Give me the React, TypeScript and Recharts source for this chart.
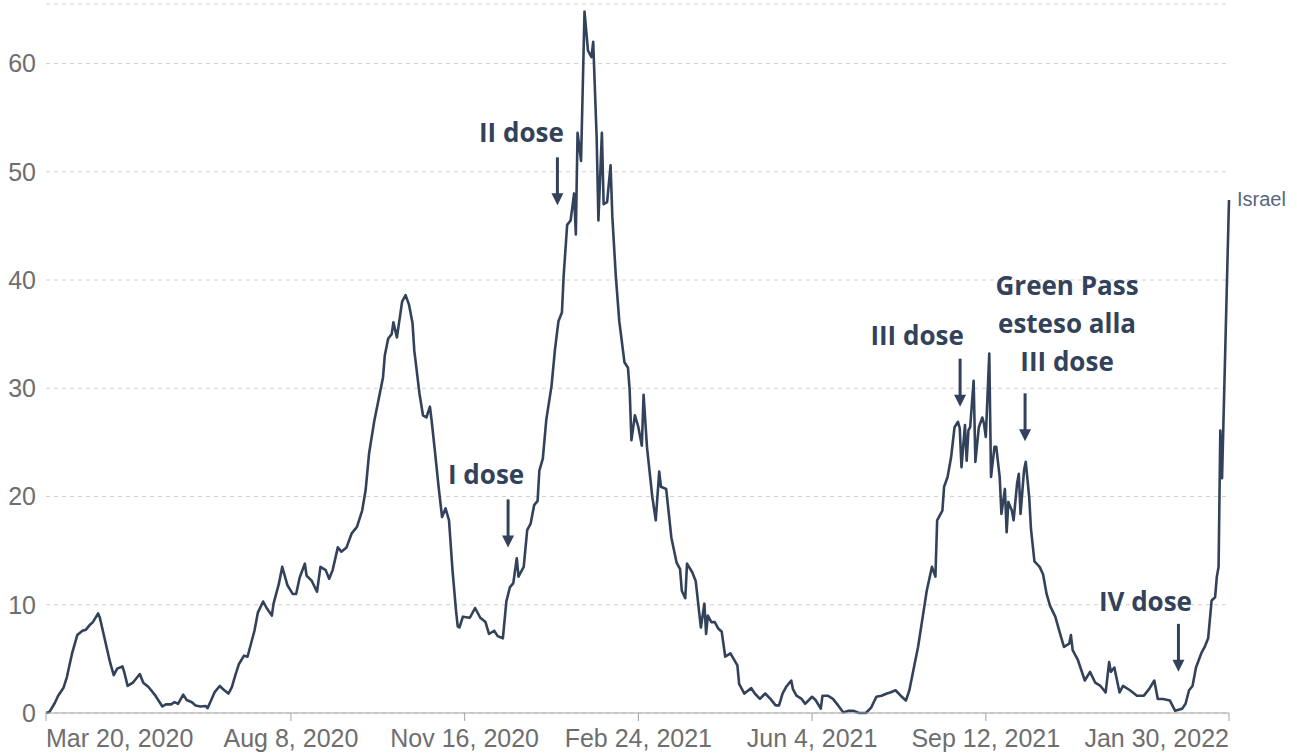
import { LineChart, Line, XAxis, YAxis, CartesianGrid, ReferenceDot } from "recharts";

// days since Mar 20, 2020
const days = [
  0, 2, 5, 7, 10, 12, 15, 18, 21, 23, 25, 27, 30, 31, 34, 37, 39, 41, 44, 45, 47, 50, 54, 56, 59, 63, 67, 69, 72, 74,
  76, 79, 81, 84, 86, 89, 92, 93, 95, 97, 100, 102, 105, 107, 109, 111, 114, 116, 117, 119, 120, 122, 125, 127, 130,
  131, 134, 136, 139, 142, 144, 146, 149, 150, 153, 156, 158, 161, 163, 165, 168, 170, 173, 176, 179, 182, 184, 186,
  189, 191, 194, 195, 197, 199, 200, 202, 204, 205, 207, 209, 211, 212, 215, 217, 219, 221, 222, 224, 226, 228, 230,
  232, 233, 234, 236, 237, 238, 240, 244, 247, 250, 253, 255, 258, 260, 263, 265, 267, 269, 271, 272, 275, 277, 279,
  281, 283, 284, 286, 288, 291, 293, 295, 297, 298, 300, 302, 304, 305, 306, 308, 310, 312, 314, 315, 317, 318, 320,
  321, 323, 325, 326, 328, 330, 333, 335, 336, 337, 339, 341, 343, 344, 346, 349, 351, 353, 354, 357, 360, 363, 365,
  366, 368, 369, 372, 374, 376, 377, 379, 380, 381, 383, 385, 387, 389, 391, 394, 398, 399, 402, 406, 408, 411, 414,
  417, 420, 422, 424, 426, 429, 430, 432, 435, 437, 441, 443, 446, 447, 450, 453, 456, 459, 462, 465, 468, 472, 475,
  478, 481, 484, 486, 489, 492, 495, 497, 500, 502, 505, 507, 510, 512, 513, 516, 517, 519, 521, 523, 525, 526, 527,
  529, 530, 531, 532, 534, 535, 537, 539, 540, 541, 543, 544, 546, 547, 549, 550, 552, 553, 554, 556, 557, 559, 560,
  561, 563, 564, 566, 567, 569, 572, 574, 576, 578, 581, 584, 586, 589, 590, 591, 594, 598, 601, 604, 607, 610, 612,
  613, 615, 618, 620, 624, 628, 632, 635, 638, 640, 643, 647, 650, 654, 656, 658, 660, 662, 665, 667, 669, 671, 673,
  674, 675, 676, 677, 681,
];

const israel = [
  0, 0.1, 0.9, 1.6, 2.3, 3.3, 5.5, 7.2, 7.6, 7.7, 8.1, 8.4, 9.2, 8.8, 6.7, 4.6, 3.5, 4.1, 4.3, 3.8, 2.5, 2.8, 3.6, 2.8,
  2.4, 1.6, 0.6, 0.8, 0.8, 1.0, 0.85, 1.7, 1.2, 1.0, 0.7, 0.6, 0.65, 0.45, 1.15, 1.9, 2.5, 2.2, 1.8, 2.4, 3.5, 4.5, 5.3,
  5.2, 5.8, 7.0, 7.6, 9.3, 10.3, 9.7, 9.0, 10.1, 11.9, 13.5, 11.8, 11.0, 11.0, 12.5, 13.8, 12.7, 12.2, 11.2, 13.5, 13.2,
  12.4, 13.2, 15.3, 14.9, 15.3, 16.6, 17.2, 18.7, 20.6, 24.0, 27.0, 28.6, 31.0, 33.0, 34.6, 35.0, 36.1, 34.7, 36.9,
  38.0, 38.6, 37.7, 36.0, 33.5, 29.5, 27.5, 27.3, 28.3, 27.0, 24.0, 20.9, 18.1, 18.9, 17.8, 15.5, 13.2, 9.5, 8.0, 7.9,
  8.9, 8.8, 9.7, 8.8, 8.4, 7.3, 7.6, 7.1, 6.9, 10.3, 11.6, 12.0, 14.3, 12.6, 13.5, 16.9, 17.5, 19.2, 19.6, 22.4, 23.5,
  27.1, 30.2, 33.6, 36.2, 37.0, 40.4, 45.1, 45.5, 48.0, 44.2, 53.6, 51.0, 64.8, 61.2, 60.6, 62.0, 53.1, 45.5, 53.6,
  47.0, 47.2, 50.6, 45.9, 40.4, 36.2, 32.4, 31.9, 29.8, 25.2, 27.5, 26.4, 24.7, 29.4, 24.5, 20.0, 17.8, 22.3, 20.9,
  20.7, 16.2, 13.9, 13.3, 11.3, 10.6, 13.8, 13.0, 12.2, 9.3, 7.9, 10.1, 7.3, 9.0, 8.4, 8.4, 7.8, 7.5, 5.2, 5.5, 4.4,
  2.7, 1.8, 2.3, 1.8, 1.3, 1.8, 1.3, 0.7, 0.7, 1.8, 2.4, 3.0, 2.2, 1.6, 1.3, 0.85, 1.5, 1.2, 0.4, 1.6, 1.6, 1.3, 0.7,
  0.05, 0.2, 0.2, 0, 0, 0.5, 1.5, 1.6, 1.8, 1.9, 2.1, 1.6, 1.15, 2.1, 4.5, 6.1, 9.2, 11.3, 13.5, 12.6, 17.8, 18.7,
  20.9, 21.8, 23.6, 26.4, 26.9, 26.3, 22.7, 26.6, 23.3, 26.1, 26.4, 30.7, 23.2, 26.4, 27.3, 26.7, 25.5, 33.2, 21.8,
  24.6, 24.6, 21.8, 18.4, 20.7, 16.7, 19.5, 18.7, 17.8, 21.2, 22.1, 18.4, 22.4, 23.2, 19.9, 17.0, 14.0, 13.5, 12.8,
  11.0, 9.9, 8.9, 7.2, 6.1, 6.4, 7.2, 5.8, 4.9, 3.0, 3.8, 2.8, 2.5, 1.9, 4.7, 3.8, 4.2, 1.9, 2.5, 2.1, 1.6, 1.6, 2.2,
  3.0, 1.3, 1.3, 1.15, 0.2, 0.4, 0.85, 2.1, 2.5, 4.2, 5.5, 6.1, 6.9, 10.4, 10.7, 12.6, 13.5, 26.1, 21.7, 47.4,
];

const tickDays = [0, 141, 241, 341, 441, 541, 681];
const tickLabels = ["Mar 20, 2020", "Aug 8, 2020", "Nov 16, 2020", "Feb 24, 2021", "Jun 4, 2021", "Sep 12, 2021", "Jan 30, 2022"];
const yTicks = [0, 10, 20, 30, 40, 50, 60];

// annotations: arrow tip in data coords
const noteTexts = [["I dose"], ["II dose"], ["III dose"], ["Green Pass", "esteso alla", "III dose"], ["IV dose"]];
const noteDays = [266, 294.4, 526.2, 563.6, 651.9];
const noteValues = [15.3, 46.9, 28.3, 25.1, 3.8];

// text offsets from arrow tip (px)
const noteDx = [-22, -36, -43, 42, -33];
const noteDy = [-63, -63, -62, -70, -61];

const INK = "#33425b";
const AXIS_GRAY = "#6e6e6e";

const data = days.map((d, i) => ({ day: d, israel: israel[i] }));

function XTick({ x, y, payload }: any) {
  const i = tickDays.indexOf(payload.value);
  const anchor = i === 0 ? "start" : i === tickDays.length - 1 ? "end" : "middle";
  return (
    <text x={x} y={y} dy="0.71em" textAnchor={anchor} fill={AXIS_GRAY} fontSize={25} fontFamily="'Liberation Sans', Arial, sans-serif">
      {tickLabels[i]}
    </text>
  );
}

function Note({ cx, cy, lines, dx, dy }: any) {
  const n = lines.length;
  return (
    <g>
      <line x1={cx} y1={cy - 48} x2={cx} y2={cy - 10} stroke={INK} strokeWidth={3} />
      <polygon points={`${cx - 6},${cy - 12} ${cx + 6},${cy - 12} ${cx},${cy}`} fill={INK} />
      {lines.map((t: string, i: number) => (
        <text
          key={i}
          x={cx + dx}
          y={cy + dy - (n - 1 - i) * 38}
          textAnchor="middle"
          fill={INK}
          fontSize={26}
          fontWeight={700}
          fontFamily="'Open Sans', sans-serif"
        >
          {t}
        </text>
      ))}
    </g>
  );
}

export default function App() {
  const last = data.length - 1;
  return (
    <div style={{ width: 1297, height: 753, background: "#fff" }}>
      <style>{"body{margin:0;background:#fff}"}</style>
      <LineChart width={1297} height={753} data={data} margin={{ top: 4, right: 68, bottom: 0, left: 0 }}>
        <CartesianGrid vertical={false} stroke="#d2d2d2" strokeDasharray="4 4" />
        <XAxis
          dataKey="day"
          type="number"
          domain={[0, 681]}
          ticks={tickDays}
          interval={0}
          height={40}
          tickSize={8}
          tickMargin={8}
          axisLine={{ stroke: "#a3a3a3" }}
          tickLine={{ stroke: "#a3a3a3" }}
          tick={<XTick />}
        />
        <YAxis
          type="number"
          domain={[0, 65.5]}
          ticks={yTicks}
          width={46}
          axisLine={false}
          tickLine={false}
          tickMargin={4}
          tick={{ fill: AXIS_GRAY, fontSize: 25, fontFamily: "'Liberation Sans', Arial, sans-serif" }}
        />
        <Line
          type="linear"
          dataKey="israel"
          stroke={INK}
          strokeWidth={2.6}
          strokeLinejoin="round"
          dot={false}
          isAnimationActive={false}
        />
        {noteTexts.map((lines, i) => (
          <ReferenceDot
            key={i}
            x={noteDays[i]}
            y={noteValues[i]}
            r={0}
            ifOverflow="visible"
            shape={(p: any) => <Note cx={p.cx} cy={p.cy} lines={lines} dx={noteDx[i]} dy={noteDy[i]} />}
          />
        ))}
        <ReferenceDot
          x={days[last]}
          y={israel[last]}
          r={0}
          ifOverflow="visible"
          shape={(p: any) => (
            <text x={p.cx + 8} y={p.cy + 6} fill="#56667c" fontSize={20} fontFamily="'Liberation Sans', Arial, sans-serif">
              Israel
            </text>
          )}
        />
      </LineChart>
    </div>
  );
}
